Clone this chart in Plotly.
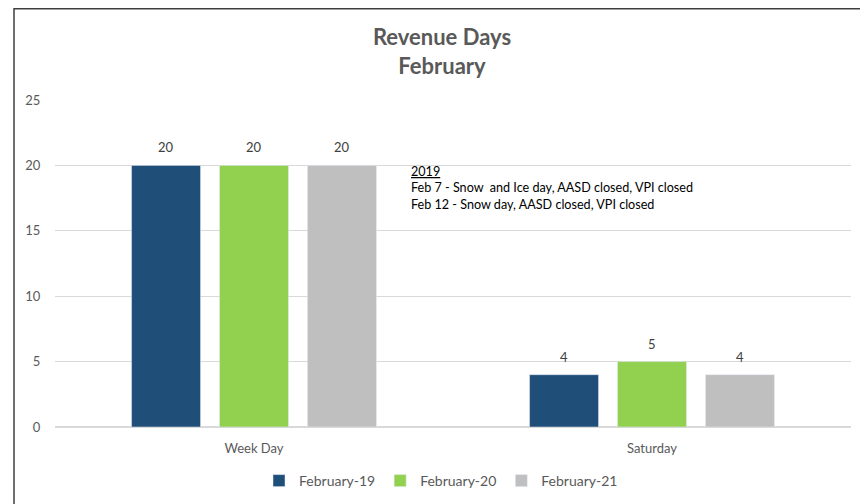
import plotly.graph_objects as go

categories = ["Week Day", "Saturday"]
series_names = ["February-19", "February-20", "February-21"]
feb19 = [20, 4]
feb20 = [20, 5]
feb21 = [20, 4]
colors = ["#1F4E79", "#92D050", "#BFBFBF"]
y_ticks = [0, 5, 10, 15, 20, 25]

FONT = "Lato, 'Open Sans', sans-serif"

# page is rendered with an 8px body margin, so local coords = page coords - 8
OFF = 8
FW, FH = 860, 496
W0, W1 = 55 - OFF, 851 - OFF
H0, H1 = 427 - OFF, 100 - OFF


def px(x):
    return (x - OFF - W0) / (W1 - W0)


def py(y):
    return (H0 - (y - OFF)) / (H0 - H1)


fig = go.Figure()
all_vals = [feb19, feb20, feb21]
for name, vals, col in zip(series_names, all_vals, colors):
    fig.add_trace(go.Bar(
        x=categories, y=vals, name=name, marker_color=col,
    ))

# data labels
stride = 88
for i, vals in enumerate(all_vals):
    for cat, v in zip(categories, vals):
        fig.add_annotation(x=cat, y=v, xref="x", yref="y", text=str(v), showarrow=False,
                           yanchor="bottom", yshift=8, xshift=(i - 1) * stride,
                           font=dict(size=13, color="#404040", family=FONT))

fig.update_layout(
    width=FW, height=FH,
    margin=dict(l=W0, r=FW - W1, t=H1, b=FH - H0, autoexpand=False),
    paper_bgcolor="white", plot_bgcolor="white",
    barmode="group", bargap=0.337, bargroupgap=0.216,
    font=dict(family=FONT, color="#595959", size=13),
    title=dict(text="<b>Revenue Days<br>February</b>", x=434 / FW, xref="container",
               xanchor="center", y=1 - 37 / FH, yref="container", yanchor="top",
               font=dict(size=22, color="#595959", family=FONT)),
    xaxis=dict(showgrid=False, showline=False, ticks="outside", ticklen=9,
               tickcolor="rgba(0,0,0,0)", automargin=False,
               tickfont=dict(size=13, color="#595959")),
    yaxis=dict(range=[0, 25], tickvals=y_ticks, showgrid=True, gridcolor="#D9D9D9",
               gridwidth=1, zeroline=True, zerolinecolor="#D9D9D9", showline=False,
               ticks="outside", ticklen=11, tickcolor="rgba(0,0,0,0)", automargin=False,
               tickfont=dict(size=13, color="#595959")),
    legend=dict(orientation="h", x=px(441), xanchor="center", y=py(481), yanchor="middle",
                font=dict(size=14, color="#595959"), itemwidth=30, traceorder="normal"),
    showlegend=True,
)

fig.add_annotation(
    xref="paper", yref="paper", x=px(409), y=py(162), xanchor="left", yanchor="top",
    align="left", showarrow=False,
    text="<u>2019</u><br>Feb 7 - Snow  and Ice day, AASD closed, VPI closed<br>Feb 12 - Snow day, AASD closed, VPI closed",
    font=dict(size=12.6, color="#000000", family=FONT),
)

fig.add_shape(type="rect", xref="paper", yref="paper",
              x0=px(14), x1=px(890), y0=py(530), y1=py(OFF + 0.75),
              line=dict(color="#3F3F3F", width=1.5), layer="above")

fig.write_html("out.html")
